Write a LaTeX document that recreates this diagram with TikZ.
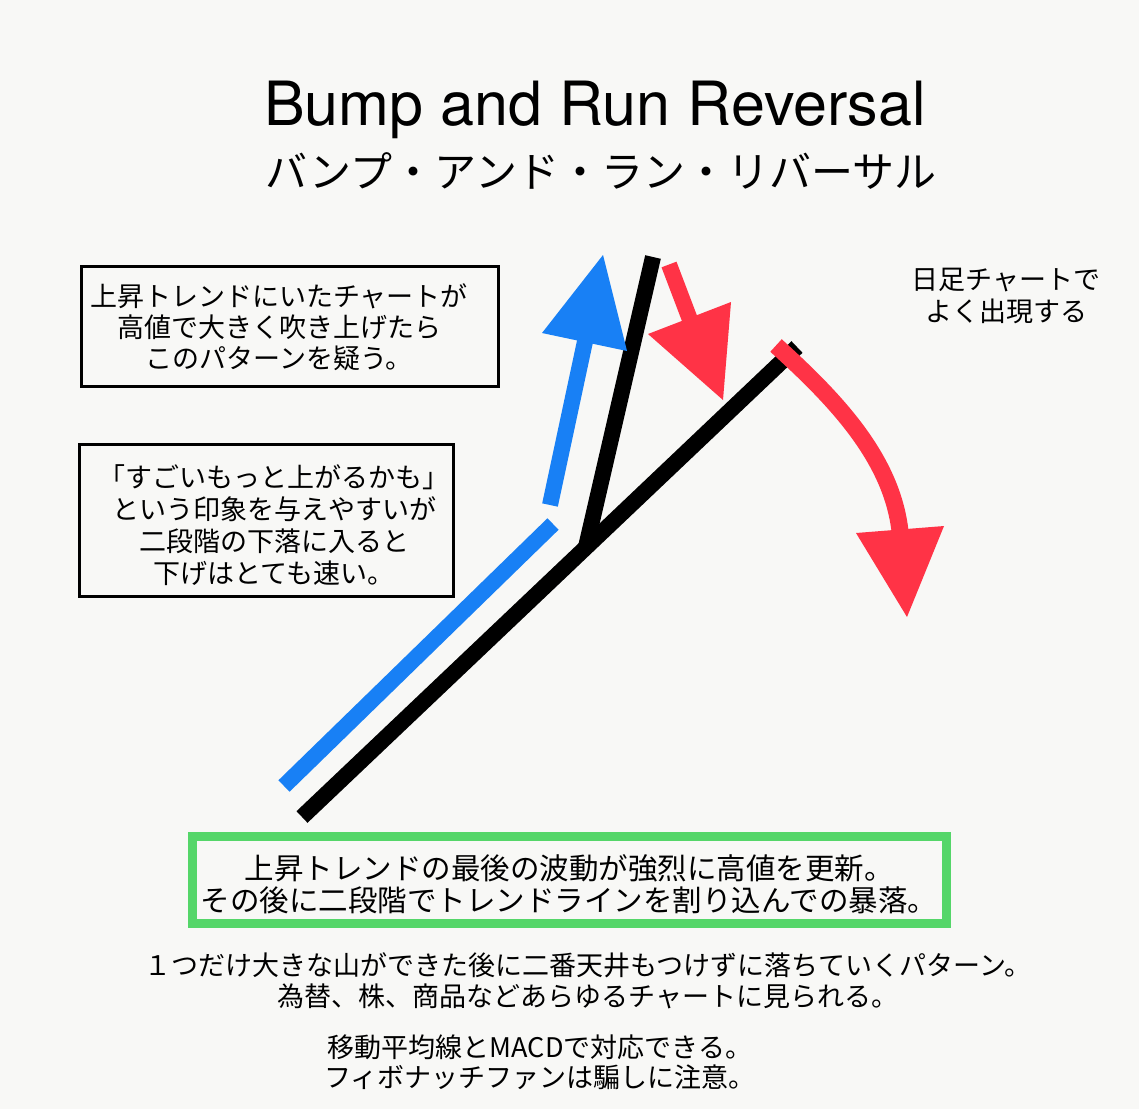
\documentclass[tikz,border=0pt]{standalone}
\usepackage{fontspec}
\setmainfont{TeX Gyre Heros}
\newfontfamily\jp{Noto Sans CJK JP}
\definecolor{bgc}{RGB}{248,248,246}
\definecolor{bluec}{RGB}{24,128,245}
\definecolor{redc}{RGB}{255,51,70}
\definecolor{greenc}{RGB}{85,214,105}
\begin{document}
\begin{tikzpicture}[x=1pt,y=-1pt,
  jptext/.style={font=\jp\fontsize{27}{31}\selectfont, align=center, inner sep=0pt},
  framebox/.style={draw=black, line width=3pt, inner sep=0pt},
  stroke/.style={line width=16pt, line cap=butt}]
\fill[bgc] (0,0) rectangle (1139,1109);
\useasboundingbox (0,0) rectangle (1139,1109);

% titles
\node[anchor=base, inner sep=0pt, font=\fontsize{61}{61}\selectfont] (title) at (595,125) {Bump and Run Reversal};
\node[anchor=base, inner sep=0pt, font=\jp\fontsize{42}{42}\selectfont] (subtitle) at (601,187) {バンプ・アンド・ラン・リバーサル};

% box 1
\node[framebox, minimum width=417pt, minimum height=120pt] (box1) at (290,326.5) {};
\node[jptext] (t1) at (279,327.5) {上昇トレンドにいたチャートが\\高値で大きく吹き上げたら\\このパターンを疑う。};

% box 2
\node[framebox, minimum width=374pt, minimum height=152pt] (box2) at (266.5,520.5) {};
\node[jptext, font=\jp\fontsize{27}{32}\selectfont] (t2) at (274,525) {「すごいもっと上がるかも」\\という印象を与えやすいが\\二段階の下落に入ると\\下げはとても速い。};

% right note
\node[jptext, font=\jp\fontsize{27}{32}\selectfont] (t3) at (1006,296) {日足チャートで\\よく出現する};

% chart lines
\coordinate (k0) at (302,817);
\coordinate (k1) at (797,347);
\coordinate (kj) at (586,547);
\coordinate (kt) at (653,257);
\draw[stroke, black] (k0) -- (k1);
\draw[stroke, black] (kj) -- (kt);

\coordinate (b0) at (284,786);
\coordinate (b1) at (553,524);
\draw[stroke, bluec] (b0) -- (b1);

% blue up arrow
\coordinate (u0) at (550,505);
\coordinate (u1) at (587,332);
\draw[stroke, bluec] (u0) -- (u1);
\fill[bluec] (603,255) -- (542,333) -- (627,351) -- cycle;

% red small arrow
\coordinate (r0) at (669,264.5);
\coordinate (r1) at (692,325);
\draw[stroke, redc] (r0) -- (r1);
\fill[redc] (723,400) -- (648,334) -- (731,302) -- cycle;

% red curved arrow
\coordinate (c0) at (776,345.5);
\coordinate (c1) at (900.5,536);
\draw[line width=17pt, line cap=butt, redc] (c0) .. controls (836,400) and (894,460) .. (c1);
\fill[redc] (907,617) -- (856,533) -- (944,526) -- cycle;

% green box
\node[draw=greenc, line width=9pt, minimum width=754pt, minimum height=87pt, inner sep=0pt] (gbox) at (569.5,880) {};
\node[jptext, font=\jp\fontsize{29.5}{32}\selectfont] (gt) at (569,884) {上昇トレンドの最後の波動が強烈に高値を更新。\\その後に二段階でトレンドラインを割り込んでの暴落。};

% bottom notes
\node[jptext] (n1) at (588,980.5) {１つだけ大きな山ができた後に二番天井もつけずに落ちていくパターン。\\為替、株、商品などあらゆるチャートに見られる。};
\node[jptext, font=\jp\fontsize{27}{30}\selectfont] (n2) at (540,1062) {移動平均線とMACDで対応できる。\\フィボナッチファンは騙しに注意。};
\end{tikzpicture}
\end{document}
